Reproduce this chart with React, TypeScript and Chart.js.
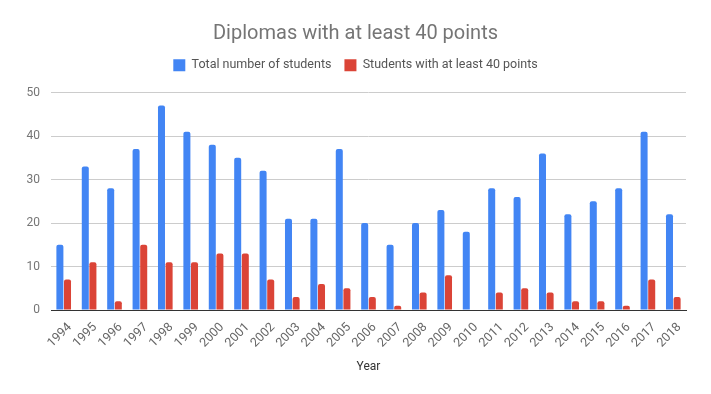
import React, { useEffect, useRef } from "react";
import { Chart, registerables } from "chart.js";

Chart.register(...registerables);

const years = ["1994","1995","1996","1997","1998","1999","2000","2001","2002","2003","2004","2005","2006","2007","2008","2009","2010","2011","2012","2013","2014","2015","2016","2017","2018"];
const totalStudents = [15, 33, 28, 37, 47, 41, 38, 35, 32, 21, 21, 37, 20, 15, 20, 23, 18, 28, 26, 36, 22, 25, 28, 41, 22];
const studentsAtLeast40 = [7, 11, 2, 15, 11, 11, 13, 13, 7, 3, 6, 5, 3, 1, 4, 8, 0, 4, 5, 4, 2, 2, 1, 7, 3];
const yTicks = [0, 10, 20, 30, 40, 50];

export default function App() {
  const ref = useRef<HTMLCanvasElement>(null);
  useEffect(() => {
    if (!ref.current) return;
    const font = "Roboto";
    const chart = new Chart(ref.current, {
      type: "bar",
      data: {
        labels: years,
        datasets: [
          {
            label: "Total number of students",
            data: totalStudents,
            backgroundColor: "#4285F4",
            borderRadius: { topLeft: 2, topRight: 2, bottomLeft: 0, bottomRight: 0 },
            borderSkipped: "bottom",
            barPercentage: 0.92,
            categoryPercentage: 0.6,
          },
          {
            label: "Students with at least 40 points",
            data: studentsAtLeast40,
            backgroundColor: "#DB4437",
            borderRadius: { topLeft: 2, topRight: 2, bottomLeft: 0, bottomRight: 0 },
            borderSkipped: "bottom",
            barPercentage: 0.92,
            categoryPercentage: 0.6,
          },
        ],
      },
      options: {
        animation: false,
        responsive: false,
        maintainAspectRatio: false,
        layout: { padding: { left: 0, right: 0, top: 2, bottom: 0 } },
        plugins: {
          title: {
            display: true,
            text: "Diplomas with at least 40 points",
            color: "#757575",
            font: { family: font, size: 20, weight: "normal" },
            padding: { top: 20, bottom: 0 },
          },
          subtitle: {
            display: true,
            text: "",
            weight: 100,
            font: { family: font, size: 10, lineHeight: 1 },
            padding: { top: 0, bottom: 1 },
          },
          legend: {
            display: true,
            labels: {
              color: "#555",
              font: { family: font, size: 12.5 },
              boxWidth: 12,
              boxHeight: 12,
              padding: 13,
            },
          },
          tooltip: { enabled: false },
        },
        scales: {
          x: {
            grid: { display: false, drawTicks: false },
            border: { display: true, color: "#333", width: 1 },
            ticks: {
              color: "#666",
              font: { family: font, size: 12.5 },
              minRotation: 45,
              maxRotation: 45,
              padding: 10,
              labelOffset: 6,
              autoSkip: false,
            },
            title: {
              display: true,
              text: "Year",
              color: "#333",
              font: { family: font, size: 12 },
              padding: { top: 0, bottom: 20 },
            },
            afterFit: (s: any) => {
              s.height = 84;
            },
          },
          y: {
            min: 0,
            max: 50,
            grid: { color: "#cccccc", drawTicks: false },
            border: { display: false },
            ticks: {
              stepSize: 10,
              color: "#757575",
              font: { family: font, size: 12 },
              padding: 11,
              callback: (v: any) => (yTicks.includes(Number(v)) ? String(v) : ""),
            },
            afterFit: (s: any) => {
              s.width = 51;
            },
          },
          yRight: {
            position: "right",
            min: 0,
            max: 50,
            grid: { display: false, drawTicks: false },
            border: { display: false },
            ticks: { display: false },
            afterFit: (s: any) => {
              s.width = 25;
            },
          },
        },
      },
    });
    return () => chart.destroy();
  }, []);
  return (
    <div style={{ position: "fixed", left: 0, top: 0, width: 711, height: 394, background: "#fff" }}>
      <canvas ref={ref} width={711} height={394} style={{ width: 711, height: 394 }} />
    </div>
  );
}
